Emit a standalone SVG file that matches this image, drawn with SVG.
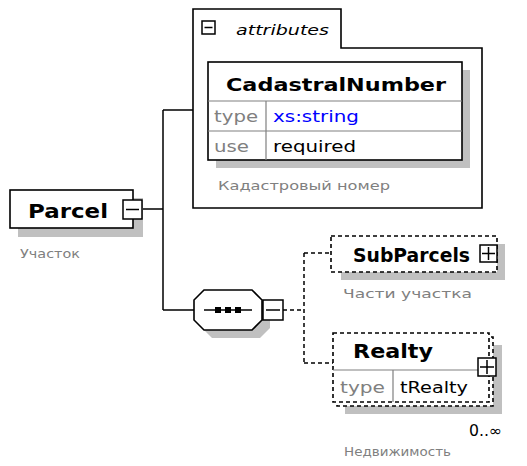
<svg xmlns="http://www.w3.org/2000/svg" width="527" height="466" viewBox="0 0 527 466">
<style>
text{font-family:"DejaVu Sans","Verdana",sans-serif}
.name{font-weight:bold;font-size:20px;fill:#000}
.cap{font-size:12px;fill:#808080}
.cell{font-size:15px;fill:#000}
.key{font-size:15px;fill:#808080}
.box{fill:#fff;stroke:#000;stroke-width:1.6}
.dbox{fill:#fff;stroke:#000;stroke-width:1.6;stroke-dasharray:4 3}
.shadow{fill:#c0c0c0}
.btn{fill:#fff;stroke:#000;stroke-width:1.5}
.ln{stroke:#000;stroke-width:1.5;fill:none}
.dln{stroke:#000;stroke-width:1.5;fill:none;stroke-dasharray:4 3}
.gl{stroke:#808080;stroke-width:1.2;fill:none}
</style>
<g id="connectors">
<path class="ln" d="M142,209 H163 M163,110 V310 M163,110 H193 M163,310 H194"/>
<path class="dln" d="M283,310 H304 M304,253 V363 M304,253 H331 M304,363 H333"/>
</g>
<g id="parcel">
<rect class="shadow" x="18" y="198" width="125" height="39"/>
<rect class="box" x="10" y="190" width="123" height="38"/>
<text class="name" x="28" y="218" textLength="80" lengthAdjust="spacingAndGlyphs">Parcel</text>
<rect class="btn" x="123" y="200" width="19" height="19"/>
<path class="ln" d="M126,209.5 H139"/>
<text class="cap" x="20" y="258" textLength="60" lengthAdjust="spacingAndGlyphs">Участок</text>
</g>
<g id="attributes">
<path class="box" d="M193,208 V9 H341 V48 H482 V208 Z"/>
<rect class="btn" x="202" y="21" width="13" height="13"/>
<path class="ln" d="M204.5,27.5 H212.5"/>
<text x="236" y="35" font-size="14" font-style="italic" textLength="93" lengthAdjust="spacingAndGlyphs">attributes</text>
</g>
<g id="cadastralNumber">
<rect class="shadow" x="216" y="70" width="254" height="98"/>
<rect class="box" x="208" y="62" width="254" height="98"/>
<path class="gl" d="M208,101 H462 M208,131 H462 M266,101 V160"/>
<text x="226" y="91" font-size="18" font-weight="bold" textLength="220" lengthAdjust="spacingAndGlyphs">CadastralNumber</text>
<text class="key" x="214" y="122" textLength="44" lengthAdjust="spacingAndGlyphs">type</text>
<text class="cell" x="273" y="122" style="fill:#0000ff" textLength="86" lengthAdjust="spacingAndGlyphs">xs:string</text>
<text class="key" x="214" y="152" textLength="35" lengthAdjust="spacingAndGlyphs">use</text>
<text class="cell" x="273" y="152" textLength="83" lengthAdjust="spacingAndGlyphs">required</text>
<text class="cap" x="218" y="190" textLength="172" lengthAdjust="spacingAndGlyphs">Кадастровый номер</text>
</g>
<g id="sequence">
<polygon class="shadow" points="212,298 260,298 270,308 270,328 260,338 212,338 202,328 202,308"/>
<polygon class="box" points="204,290 252,290 262,300 262,320 252,330 204,330 194,320 194,300"/>
<path class="ln" d="M204,310 H252"/>
<rect x="215" y="307" width="6" height="6" fill="#000"/>
<rect x="225" y="307" width="6" height="6" fill="#000"/>
<rect x="235" y="307" width="6" height="6" fill="#000"/>
<rect class="btn" x="263" y="300" width="20" height="20"/>
<path class="ln" d="M266,310 H280"/>
</g>
<g id="subParcels">
<rect class="shadow" x="341" y="244" width="164" height="36"/>
<rect class="dbox" x="331" y="236" width="166" height="36"/>
<text class="name" x="353" y="262" textLength="117" lengthAdjust="spacingAndGlyphs">SubParcels</text>
<rect class="btn" x="480" y="245" width="17" height="17"/>
<path class="ln" d="M482,253.5 H495 M488.5,247 V260"/>
<text class="cap" x="343" y="298" textLength="129" lengthAdjust="spacingAndGlyphs">Части участка</text>
</g>
<g id="realty">
<rect class="shadow" x="345" y="345" width="157" height="69"/>
<rect class="dbox" x="337" y="337" width="156" height="69"/>
<rect class="dbox" x="333" y="333" width="156" height="69"/>
<path class="gl" d="M333,370 H489 M393,370 V402"/>
<text class="name" x="353" y="358" textLength="80" lengthAdjust="spacingAndGlyphs">Realty</text>
<text class="key" x="340" y="393" textLength="45" lengthAdjust="spacingAndGlyphs">type</text>
<text class="cell" x="400" y="393" textLength="68" lengthAdjust="spacingAndGlyphs">tRealty</text>
<rect class="btn" x="478" y="358" width="18" height="18"/>
<path class="ln" d="M480,367 H494 M487,360 V374"/>
<text x="469" y="436" font-size="15" fill="#000" textLength="33" lengthAdjust="spacingAndGlyphs">0..∞</text>
<text class="cap" x="344" y="456" textLength="107" lengthAdjust="spacingAndGlyphs">Недвижимость</text>
</g>
</svg>
